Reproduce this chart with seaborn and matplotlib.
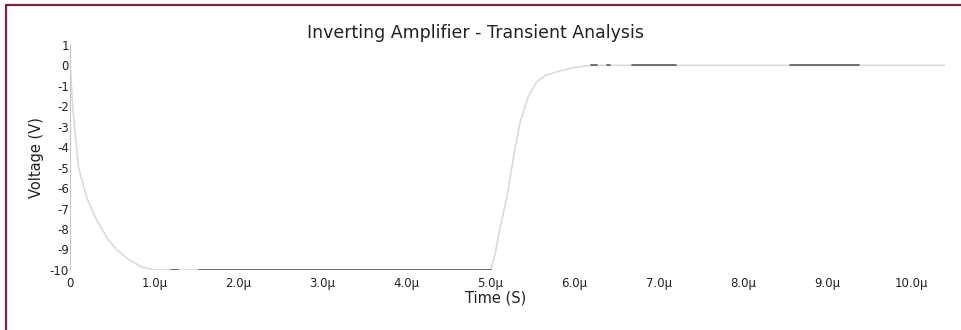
import numpy as np
import pandas as pd
import matplotlib
matplotlib.use("Agg")
import matplotlib.pyplot as plt
import seaborn as sns
from matplotlib.lines import Line2D

# ---- data ----
time_us = [0.0, 0.03, 0.07, 0.10, 0.20, 0.32, 0.45, 0.55, 0.70, 0.85, 1.00,
           5.00, 5.05, 5.10, 5.20, 5.28, 5.35, 5.45, 5.55, 5.65, 5.80, 6.00, 6.20, 10.40]
voltage = [0.0, -2.0, -3.8, -5.0, -6.5, -7.6, -8.5, -9.0, -9.5, -9.85, -10.0,
           -10.0, -9.3, -8.2, -6.3, -4.3, -2.8, -1.5, -0.8, -0.5, -0.3, -0.1, 0.0, 0.0]

# visible (dark) stretches of the trace in the scan
dark_start_us = [1.20, 1.53, 6.20, 6.38, 6.68, 8.56]
dark_end_us = [1.28, 5.00, 6.26, 6.42, 7.21, 9.38]
dark_level = [-10.0, -10.0, 0.0, 0.0, 0.0, 0.0]

xtick_vals = [0, 1, 2, 3, 4, 5, 6, 7, 8, 9, 10]
xtick_labels = ["0", "1.0\u03bc", "2.0\u03bc", "3.0\u03bc", "4.0\u03bc", "5.0\u03bc",
                "6.0\u03bc", "7.0\u03bc", "8.0\u03bc", "9.0\u03bc", "10.0\u03bc"]
ytick_vals = [1, 0, -1, -2, -3, -4, -5, -6, -7, -8, -9, -10]

sns.set_style("white")
plt.rcParams['font.family'] = ['DejaVu Sans']

fig = plt.figure(figsize=(9.61, 3.30), dpi=100)
ax = fig.add_axes([0.073, 0.182, 0.91, 0.682])

df = pd.DataFrame({"t": time_us, "v": voltage})
sns.lineplot(data=df, x="t", y="v", ax=ax, color="#dadada", linewidth=1.2,
             sort=False, estimator=None)

seg_rows = []
for i, (s, e, lv) in enumerate(zip(dark_start_us, dark_end_us, dark_level)):
    seg_rows.append({"t": s, "v": lv, "seg": i})
    seg_rows.append({"t": e, "v": lv, "seg": i})
seg_df = pd.DataFrame(seg_rows)
sns.lineplot(data=seg_df, x="t", y="v", units="seg", estimator=None, ax=ax,
             color="#5a5a5a", linewidth=1.2, sort=False)

ax.set_xlim(0, 10.4)
ax.set_ylim(-10, 1)
ax.set_xticks(xtick_vals)
ax.set_xticklabels(xtick_labels)
ax.set_yticks(ytick_vals)
ax.set_yticklabels([str(v) for v in ytick_vals])
ax.tick_params(axis="both", length=0, labelsize=8.5, colors="#222222")
ax.tick_params(axis="x", pad=5)
ax.tick_params(axis="y", pad=1)

for side in ["top", "right", "bottom"]:
    ax.spines[side].set_visible(False)
ax.spines["left"].set_color("#c8c8c8")
ax.spines["left"].set_linewidth(0.8)

ax.set_title("Inverting Amplifier - Transient Analysis", fontsize=12.5,
             color="#222222", pad=5, x=0.463)
ax.set_xlabel("Time (S)", fontsize=10.5, color="#222222")
ax.set_ylabel("Voltage (V)", fontsize=10.5, color="#222222")
ax.xaxis.set_label_coords(0.486, -0.09)
ax.yaxis.set_label_coords(-0.030, 0.5)

# maroon frame on top and left
fig.add_artist(Line2D([6 / 961, 961 / 961], [1 - 5 / 330, 1 - 5 / 330],
                      transform=fig.transFigure, color="#7a2440", linewidth=1.6))
fig.add_artist(Line2D([6 / 961, 6 / 961], [0, 1 - 5 / 330],
                      transform=fig.transFigure, color="#7a2440", linewidth=1.6))

fig.savefig("out.png", dpi=100, facecolor="white")
